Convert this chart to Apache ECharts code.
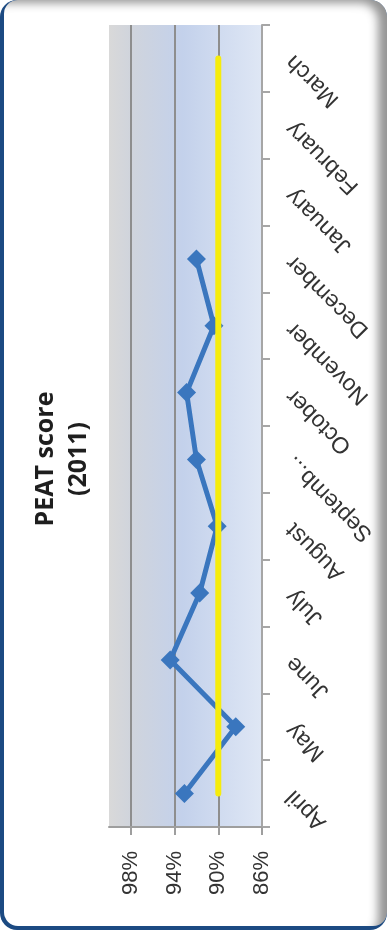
<!DOCTYPE html>
<html>
<head>
<meta charset="utf-8">
<script src="https://cdn.jsdelivr.net/npm/echarts@6/dist/echarts.min.js"></script>
<style>
  html, body { margin: 0; padding: 0; background: #ffffff; }
  #frame {
    position: absolute; left: 0; top: 0; width: 387px; height: 930px;
    background: #1C4A82; border-radius: 17px; overflow: hidden;
  }
  #panel {
    position: absolute; left: 4px; top: 0px; right: 0px; bottom: 4px;
    background: #ffffff; border-radius: 14px;
    box-shadow: inset -13px 7px 10px -4px rgba(0,0,0,0.42);
  }
  #chart { position: absolute; left: 0; top: 0; width: 387px; height: 930px; }
</style>
</head>
<body>
<div id="frame"><div id="panel"></div></div>
<div id="chart"></div>
<script>
// Monthly PEAT scores for 2011 (April to March), in percent
const months = ['April', 'May', 'June', 'July', 'August', 'September',
                'October', 'November', 'December', 'January', 'February', 'March'];
const peatScore = [93.1, 88.4, 94.4, 91.7, 90.1, 92.0, 92.9, 90.4, 92.0, null, null, null];
const target = [90, 90, 90, 90, 90, 90, 90, 90, 90, 90, 90, 90];
const valueTicks = [86, 90, 94, 98];
const titleLines = ['PEAT score', '(2011)'];

const chart = echarts.init(document.getElementById('chart'), null, { renderer: 'canvas' });

chart.setOption({
  backgroundColor: 'transparent',
  animation: false,
  graphic: [{
    type: 'text',
    x: 62, y: 459,
    rotation: Math.PI / 2,
    style: {
      text: titleLines.join('\n'),
      font: 'bold 25px "Open Sans"',
      fill: '#1e1e1e',
      align: 'center',
      verticalAlign: 'middle',
      lineHeight: 33
    }
  }],
  grid: {
    left: 109, top: 25, width: 153, height: 802,
    show: true,
    borderWidth: 0,
    backgroundColor: new echarts.graphic.LinearGradient(0, 0, 1, 0, [
      { offset: 0, color: '#D9D9D9' },
      { offset: 0.14, color: '#D0D4DC' },
      { offset: 0.48, color: '#C3D1EB' },
      { offset: 1, color: '#DFE7F5' }
    ])
  },
  xAxis: {
    type: 'value',
    inverse: true,
    position: 'bottom',
    min: 86, max: 100, interval: 4,
    axisLine: { show: true, lineStyle: { color: '#9E9E9E', width: 2 } },
    axisTick: { show: true, length: 8, customValues: valueTicks, lineStyle: { color: '#9E9E9E', width: 2 } },
    splitLine: { show: true, lineStyle: { color: '#8E8E8E', width: 2 } },
    axisLabel: {
      customValues: valueTicks,
      rotate: 90,
      margin: 24,
      formatter: '{value}%',
      fontFamily: '"Liberation Sans", Arial, sans-serif',
      fontSize: 22,
      color: '#333333'
    }
  },
  yAxis: {
    type: 'category',
    position: 'right',
    data: months,
    boundaryGap: true,
    axisLine: { show: true, lineStyle: { color: '#A6A6A6', width: 2 } },
    axisTick: { show: true, length: 8, lineStyle: { color: '#A6A6A6', width: 2 } },
    splitLine: { show: false },
    axisLabel: {
      rotate: 135,
      margin: 28,
      align: 'right',
      fontFamily: '"Liberation Sans", Arial, sans-serif',
      fontSize: 23,
      color: '#333333',
      interval: 0,
      formatter: function (name) {
        return name.length > 8 ? name.slice(0, 7) + '...' : name;
      }
    }
  },
  series: [
    {
      name: 'PEAT score',
      type: 'line',
      data: peatScore,
      symbol: 'diamond',
      symbolSize: 19,
      lineStyle: { color: '#3A76BE', width: 5 },
      itemStyle: { color: '#3A76BE' },
      z: 2
    },
    {
      name: 'Target',
      type: 'line',
      data: target,
      symbol: 'none',
      lineStyle: { color: '#F6EC0C', width: 6, cap: 'round' },
      z: 3
    }
  ]
});
</script>
</body>
</html>
